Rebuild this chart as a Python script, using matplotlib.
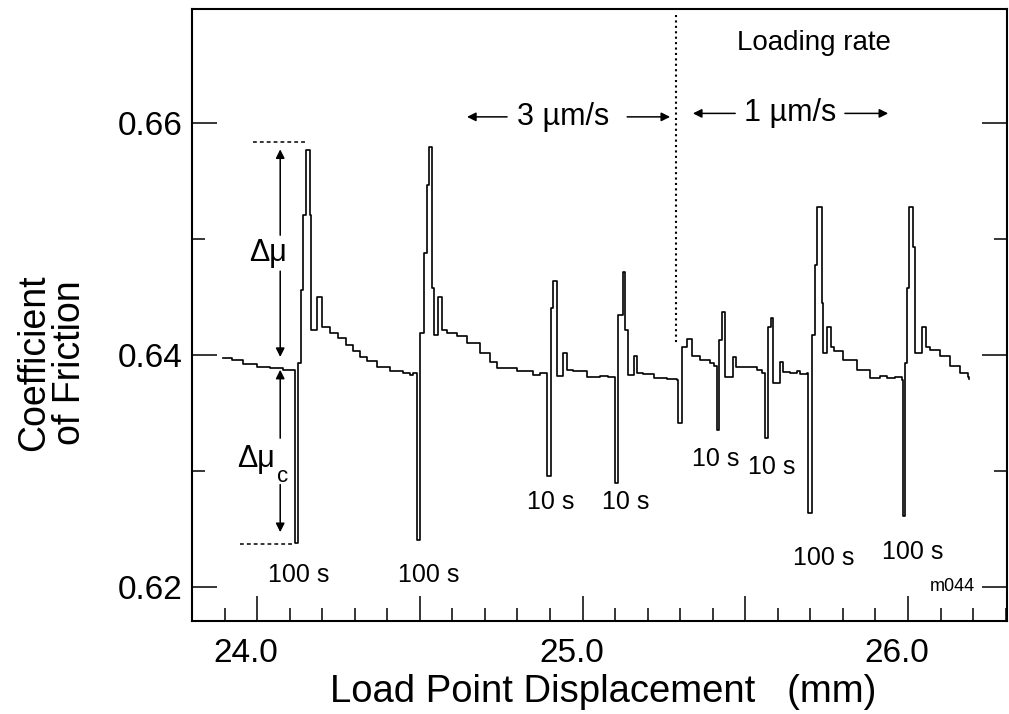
import matplotlib.pyplot as plt
from matplotlib.ticker import FixedLocator, MultipleLocator
from matplotlib.transforms import ScaledTranslation

plt.rcParams['font.family'] = ['Liberation Sans', 'DejaVu Sans']

# friction trace (load point displacement in mm, coefficient of friction)
disp = [23.895, 23.922, 23.958, 23.999, 24.040, 24.081, 24.107, 24.115,
        24.117, 24.127, 24.135, 24.141, 24.151, 24.161, 24.166, 24.183, 24.200,
        24.224, 24.249, 24.273, 24.296, 24.316, 24.337, 24.368, 24.409, 24.449,
        24.470, 24.480,
        24.492, 24.501, 24.513, 24.521, 24.529, 24.537, 24.542, 24.557, 24.568,
        24.583, 24.614, 24.644, 24.685, 24.716, 24.736, 24.798, 24.849, 24.869,
        24.890, 24.902, 24.910, 24.921, 24.940, 24.952, 24.972, 25.013, 25.054,
        25.078,
        25.100, 25.110, 25.124, 25.131, 25.139, 25.158, 25.167, 25.187, 25.218,
        25.259, 25.289,
        25.293, 25.305, 25.320, 25.335, 25.361, 25.392, 25.404,
        25.412, 25.419, 25.428, 25.438, 25.462, 25.472, 25.494, 25.535, 25.551,
        25.561, 25.570, 25.579, 25.586, 25.607, 25.616, 25.637, 25.658, 25.668,
        25.689,
        25.694, 25.704, 25.714, 25.720, 25.735, 25.740, 25.750, 25.763, 25.771,
        25.801, 25.842, 25.883, 25.914, 25.935, 25.960, 25.981,
        25.986, 25.992, 25.997, 26.003, 26.016, 26.022, 26.042, 26.055, 26.068,
        26.098, 26.129, 26.160, 26.185, 26.188]
mu = [0.63968, 0.63951, 0.63920, 0.63894, 0.63882, 0.63871, 0.63865, 0.63856,
      0.62379, 0.63931, 0.64560, 0.65207, 0.65767, 0.65207, 0.64215, 0.64500, 0.64241,
      0.64190, 0.64147, 0.64086, 0.64028, 0.63983, 0.63942, 0.63894, 0.63856, 0.63845,
      0.63823, 0.63843,
      0.62405, 0.64190, 0.64879, 0.65466, 0.65793, 0.64578, 0.64172, 0.64500, 0.64215,
      0.64190, 0.64164, 0.64101, 0.64015, 0.63940, 0.63885, 0.63856, 0.63828, 0.63840,
      0.62951, 0.64403, 0.64632, 0.63819, 0.64017, 0.63871, 0.63862, 0.63810, 0.63819,
      0.63806,
      0.62894, 0.64345, 0.64715, 0.64215, 0.63828, 0.63991, 0.63845, 0.63836, 0.63799,
      0.63790, 0.63784,
      0.63411, 0.64069, 0.64138, 0.63985, 0.63957, 0.63928, 0.63899,
      0.63353, 0.64129, 0.64371, 0.63810, 0.63983, 0.63897, 0.63897, 0.63871, 0.63842,
      0.63282, 0.64241, 0.64316, 0.63759, 0.63940, 0.63853, 0.63842, 0.63856, 0.63836,
      0.63842,
      0.62635, 0.64172, 0.64776, 0.65276, 0.64448, 0.64017, 0.64241, 0.64069, 0.64028,
      0.63957, 0.63871, 0.63799, 0.63819, 0.63799, 0.63806, 0.63784,
      0.62606, 0.63931, 0.64578, 0.65276, 0.64931, 0.64017, 0.64241, 0.64069, 0.64043,
      0.63985, 0.63899, 0.63842, 0.63810, 0.63790]

# hold times written under each slide-hold-slide event
hold_text = ['100 s', '100 s', '10 s', '10 s', '10 s', '10 s', '100 s', '100 s']
hold_x = [24.129, 24.528, 24.903, 25.134, 25.410, 25.582, 25.742, 26.015]
hold_y = [0.6210, 0.6210, 0.6273, 0.6273, 0.6310, 0.6303, 0.6225, 0.6230]

rate_change = 25.287      # displacement where loading rate goes 3 -> 1 um/s
peak_mu = 0.6583          # delta mu reference levels
min_mu = 0.6237

fig = plt.figure(figsize=(10.09, 7.14), dpi=100)
ax = fig.add_axes([0.1903, 0.1296, 0.8077, 0.8578])

ax.plot(disp, mu, drawstyle='steps-post', color='black', lw=1.2)

ax.set_xlim(23.80, 26.304)
ax.set_ylim(0.6170, 0.6698)

# axes, ticks
for sp in ax.spines.values():
    sp.set_linewidth(1.5)
ax.xaxis.set_major_locator(FixedLocator([24.0, 24.5, 25.0, 25.5, 26.0]))
ax.xaxis.set_minor_locator(MultipleLocator(0.1))
ax.set_xticklabels(['24.0', '', '25.0', '', '26.0'])
ax.yaxis.set_major_locator(FixedLocator([0.62, 0.64, 0.66]))
ax.yaxis.set_minor_locator(FixedLocator([0.63, 0.65]))
ax.set_yticklabels(['0.62', '0.64', '0.66'])
ax.tick_params(which='both', direction='in', top=False, right=True, width=1.1)
ax.tick_params(which='major', length=18, labelsize=24)
ax.tick_params(which='minor', length=9.5)
ax.tick_params(axis='x', pad=12)
ax.tick_params(axis='y', pad=7)
shift = ScaledTranslation(-0.11, 0, fig.dpi_scale_trans)
for lab in ax.get_xticklabels():
    lab.set_transform(lab.get_transform() + shift)

ax.set_xlabel('Load Point Displacement   (mm)', fontsize=27.5)
ax.xaxis.set_label_coords(0.505, -0.115)
ax.xaxis.label.set_verticalalignment('center')
ax.set_ylabel('Coefficient\nof Friction', fontsize=27, linespacing=1.0,
              multialignment='center')
ax.yaxis.set_label_coords(-0.172, 0.422)
ax.yaxis.label.set_verticalalignment('center')

# delta mu construction
ax.plot([23.988, 24.154], [peak_mu, peak_mu], color='black', lw=1.1, ls=(0, (2.5, 2)))
ax.plot([23.948, 24.117], [min_mu, min_mu], color='black', lw=1.1, ls=(0, (2.5, 2)))
arr = dict(arrowstyle='-|>', color='black', lw=1.1, mutation_scale=13,
           shrinkA=0, shrinkB=0)
ax.annotate('', xy=(24.071, 0.6577), xytext=(24.071, 0.6503), arrowprops=arr)
ax.annotate('', xy=(24.071, 0.6398), xytext=(24.071, 0.6472), arrowprops=arr)
ax.annotate('', xy=(24.071, 0.6387), xytext=(24.071, 0.6328), arrowprops=arr)
ax.annotate('', xy=(24.071, 0.6247), xytext=(24.071, 0.6288), arrowprops=arr)
ax.text(24.034, 0.6488, 'Δμ', fontsize=22, ha='center', va='center')
ax.text(24.056, 0.6310, 'Δμ', fontsize=22, ha='right', va='center')
ax.text(24.060, 0.6295, 'c', fontsize=16, ha='left', va='center')

# loading rate
ax.plot([rate_change, rate_change], [0.6693, 0.6409], color='black', lw=1.5,
        ls=(0, (1, 1.6)))
ax.text(25.711, 0.6669, 'Loading rate', fontsize=20, ha='center', va='center')
ax.text(24.940, 0.6605, '3 µm/s', fontsize=22, ha='center', va='center')
ax.text(25.637, 0.6608, '1 µm/s', fontsize=22, ha='center', va='center')
ax.annotate('', xy=(24.645, 0.6605), xytext=(24.768, 0.6605), arrowprops=arr)
ax.annotate('', xy=(25.269, 0.6605), xytext=(25.137, 0.6605), arrowprops=arr)
ax.annotate('', xy=(25.339, 0.6608), xytext=(25.469, 0.6608), arrowprops=arr)
ax.annotate('', xy=(25.939, 0.6608), xytext=(25.806, 0.6608), arrowprops=arr)

for t, x, y in zip(hold_text, hold_x, hold_y):
    ax.text(x, y, t, fontsize=18, ha='center', va='center')

ax.text(26.206, 0.6200, 'm044', fontsize=13, ha='right', va='center')

fig.savefig('out.png', dpi=100)
